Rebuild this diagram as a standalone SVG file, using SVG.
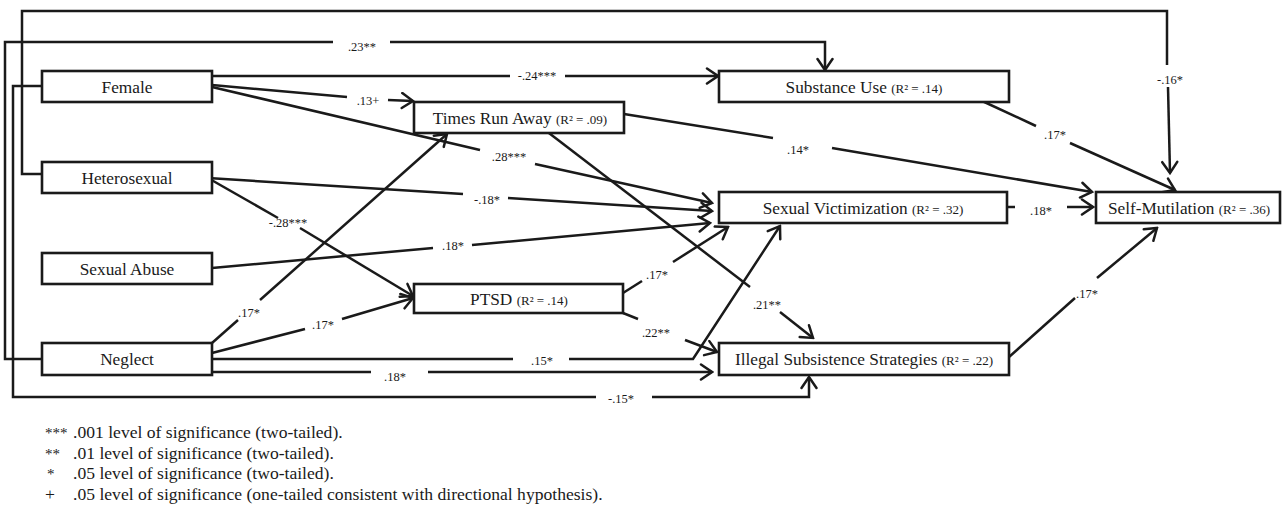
<svg xmlns="http://www.w3.org/2000/svg" width="1283" height="508" viewBox="0 0 1283 508">
<style>
.box{fill:#fff;stroke:#1a1a1a;stroke-width:2.6}
.ln{fill:none;stroke:#1a1a1a;stroke-width:2.5}
.ar{fill:none;stroke:#1a1a1a;stroke-width:2.5;marker-end:url(#ah)}
text{font-family:'Liberation Serif','Times New Roman',serif;fill:#1a1a1a}
.nt{font-size:17.3px;text-anchor:middle}
.r2{font-size:13px}
.el{font-size:12.5px;text-anchor:middle}
.lg{font-size:17.6px}
.st{font-size:15px}
</style>
<defs>
<marker id="ah" markerUnits="userSpaceOnUse" viewBox="-13 -9 15 18" markerWidth="15" markerHeight="18" refX="0" refY="0" orient="auto">
<path d="M-11,-7.5 L0,0 L-11,7.5" fill="none" stroke="#1a1a1a" stroke-width="2.5" stroke-linecap="round" stroke-linejoin="miter"/>
</marker>
</defs>
<g id="connectors">
<path class="ln" d="M42,174 H22 V11 H1167 V65"/>
<path class="ar" d="M1168,87 L1170,173"/>
<text class="el" x="1170" y="84">-.16*</text>
<path class="ln" d="M42,359 H5 V42 H333"/>
<path class="ar" d="M390,42 H825 V70"/>
<text class="el" x="362" y="51">.23**</text>
<path class="ln" d="M42,86 H13 V397 H596"/>
<path class="ar" d="M652,397 H809 V377"/>
<text class="el" x="621" y="403">-.15*</text>
<path class="ln" d="M212,76 H510"/>
<path class="ar" d="M565,76 H718"/>
<text class="el" x="537" y="80">-.24***</text>
<path class="ln" d="M212,85 L347,97"/>
<path class="ar" d="M388,100 L413,101"/>
<text class="el" x="368" y="105">.13+</text>
<path class="ln" d="M212,87 L480,150"/>
<path class="ar" d="M535,164 L712,203"/>
<text class="el" x="509" y="161">.28***</text>
<path class="ln" d="M208,178 L463,194"/>
<path class="ar" d="M508,198 L712,211"/>
<text class="el" x="487" y="204">-.18*</text>
<path class="ln" d="M212,268 L433,248"/>
<path class="ar" d="M472,245 L710,223"/>
<text class="el" x="453" y="250">.18*</text>
<path class="ln" d="M208,178 L278,218"/>
<path class="ar" d="M300,228 L413,296"/>
<text class="el" x="288" y="227">-.28***</text>
<path class="ln" d="M212,343 L238,320"/>
<path class="ar" d="M260,300 L447,134"/>
<text class="el" x="249" y="317">.17*</text>
<path class="ln" d="M212,353 L305,329"/>
<path class="ar" d="M342,319 L413,298"/>
<text class="el" x="323" y="329">.17*</text>
<path class="ln" d="M212,359 H513"/>
<path class="ar" d="M569,359 H693 L780,226"/>
<text class="el" x="542" y="365">.15*</text>
<path class="ln" d="M212,372 H371"/>
<path class="ar" d="M428,372 H712"/>
<text class="el" x="395" y="381">.18*</text>
<path class="ln" d="M624,114 L773,138"/>
<path class="ar" d="M832,148 L1092,192"/>
<text class="el" x="798" y="154">.14*</text>
<path class="ln" d="M545,130 L750,287"/>
<path class="ar" d="M780,312 L813,338"/>
<text class="el" x="767" y="309">.21**</text>
<path class="ln" d="M623,293 L642,281"/>
<path class="ar" d="M673,262 L728,227"/>
<text class="el" x="657" y="279">.17*</text>
<path class="ln" d="M623,313 L638,319"/>
<path class="ar" d="M685,340 L717,352"/>
<text class="el" x="656" y="337">.22**</text>
<path class="ln" d="M980,100 L1036,126"/>
<path class="ar" d="M1070,143 L1175,190"/>
<text class="el" x="1055" y="139">.17*</text>
<path class="ln" d="M1007,207 H1015"/>
<path class="ar" d="M1067,207 H1093"/>
<text class="el" x="1041" y="215">.18*</text>
<path class="ln" d="M1009,357 L1075,298"/>
<path class="ar" d="M1097,278 L1157,228"/>
<text class="el" x="1087" y="298">.17*</text>
</g>
<g id="female"><rect class="box" x="42" y="71" width="170" height="31"/><text class="nt" x="127" y="93">Female</text></g>
<g id="heterosexual"><rect class="box" x="42" y="162" width="170" height="31"/><text class="nt" x="127" y="184">Heterosexual</text></g>
<g id="sexual-abuse"><rect class="box" x="42" y="253" width="170" height="31"/><text class="nt" x="127" y="275">Sexual Abuse</text></g>
<g id="neglect"><rect class="box" x="42" y="343" width="170" height="32"/><text class="nt" x="127" y="365">Neglect</text></g>
<g id="times-run-away"><rect class="box" x="414" y="102" width="210" height="31"/><text class="nt" x="520" y="124">Times Run Away <tspan class="r2">(R² = .09)</tspan></text></g>
<g id="ptsd"><rect class="box" x="414" y="284" width="209" height="29"/><text class="nt" x="519" y="305">PTSD <tspan class="r2">(R² = .14)</tspan></text></g>
<g id="substance-use"><rect class="box" x="719" y="71" width="290" height="31"/><text class="nt" x="864" y="93">Substance Use <tspan class="r2">(R² = .14)</tspan></text></g>
<g id="sexual-victimization"><rect class="box" x="719" y="192" width="288" height="31"/><text class="nt" x="863" y="214">Sexual Victimization <tspan class="r2">(R² = .32)</tspan></text></g>
<g id="illegal-subsistence"><rect class="box" x="719" y="343" width="290" height="32"/><text class="nt" x="864" y="365">Illegal Subsistence Strategies <tspan class="r2">(R² = .22)</tspan></text></g>
<g id="self-mutilation"><rect class="box" x="1096" y="192" width="184" height="31"/><text class="nt" x="1189" y="214">Self-Mutilation <tspan class="r2">(R² = .36)</tspan></text></g>
<g id="legend">
<text class="lg st" x="45" y="438">***</text><text class="lg" x="73" y="438">.001 level of significance (two-tailed).</text>
<text class="lg st" x="45" y="459">**</text><text class="lg" x="73" y="459">.01 level of significance (two-tailed).</text>
<text class="lg st" x="47" y="479">*</text><text class="lg" x="73" y="479">.05 level of significance (two-tailed).</text>
<text class="lg" x="45" y="500">+</text><text class="lg" x="73" y="500">.05 level of significance (one-tailed consistent with directional hypothesis).</text>
</g>
</svg>
